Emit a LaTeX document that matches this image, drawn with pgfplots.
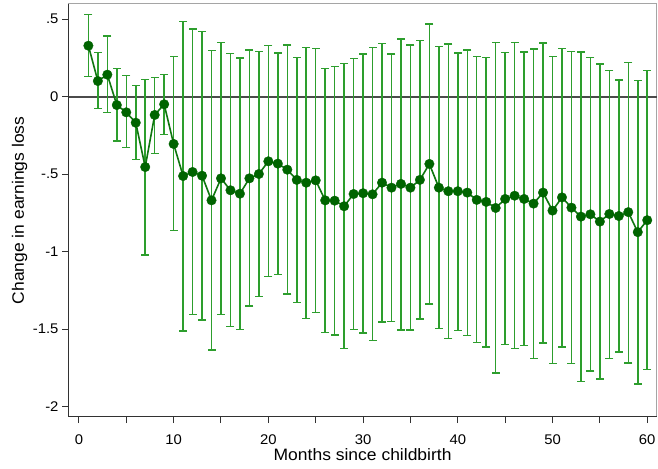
\documentclass[border=0pt]{standalone}
\usepackage{pgfplots}
\pgfplotsset{compat=1.18}
\usepackage{pgfplotstable}
\usepackage{fontspec}
\setmainfont[FakeStretch=1.06]{Liberation Sans}
\definecolor{cigreen}{RGB}{45,158,45}
\definecolor{dkgreen}{RGB}{0,100,0}
\definecolor{linegreen}{RGB}{15,118,15}
\definecolor{framegray}{RGB}{165,165,165}
\definecolor{axisdark}{RGB}{50,50,50}
\definecolor{zerogray}{RGB}{75,75,75}

\pgfplotstableread{
x y lo hi
1 0.329 0.132 0.529
2 0.101 -0.077 0.286
3 0.142 -0.103 0.392
4 -0.054 -0.286 0.181
5 -0.101 -0.329 0.135
6 -0.168 -0.406 0.073
7 -0.454 -1.021 0.112
8 -0.118 -0.365 0.125
9 -0.049 -0.245 0.142
10 -0.305 -0.864 0.258
11 -0.512 -1.512 0.486
12 -0.486 -1.404 0.437
13 -0.510 -1.441 0.422
14 -0.669 -1.634 0.297
15 -0.527 -1.404 0.351
16 -0.604 -1.482 0.277
17 -0.626 -1.503 0.250
18 -0.527 -1.350 0.301
19 -0.499 -1.290 0.290
20 -0.417 -1.161 0.329
21 -0.432 -1.148 0.282
22 -0.471 -1.273 0.334
23 -0.537 -1.327 0.252
24 -0.555 -1.430 0.316
25 -0.540 -1.394 0.310
26 -0.669 -1.520 0.183
27 -0.671 -1.537 0.196
28 -0.707 -1.623 0.215
29 -0.628 -1.503 0.248
30 -0.623 -1.525 0.275
31 -0.630 -1.574 0.316
32 -0.555 -1.454 0.342
33 -0.587 -1.452 0.275
34 -0.563 -1.505 0.372
35 -0.587 -1.505 0.334
36 -0.537 -1.434 0.361
37 -0.434 -1.337 0.469
38 -0.587 -1.494 0.323
39 -0.610 -1.561 0.340
40 -0.610 -1.510 0.282
41 -0.619 -1.540 0.301
42 -0.666 -1.585 0.258
43 -0.679 -1.615 0.254
44 -0.718 -1.783 0.351
45 -0.660 -1.600 0.284
46 -0.639 -1.626 0.351
47 -0.660 -1.606 0.288
48 -0.690 -1.690 0.308
49 -0.619 -1.589 0.346
50 -0.735 -1.723 0.258
51 -0.650 -1.615 0.312
52 -0.716 -1.720 0.290
53 -0.774 -1.836 0.288
54 -0.759 -1.770 0.254
55 -0.806 -1.823 0.211
56 -0.757 -1.690 0.170
57 -0.770 -1.647 0.108
58 -0.745 -1.718 0.222
59 -0.874 -1.854 0.103
60 -0.797 -1.760 0.168
}\datatable

\begin{document}
\begin{tikzpicture}
\begin{axis}[
  scale only axis,
  width=588.2bp, height=412.7bp,
  xmin=-1.1, xmax=61,
  ymin=-2.065, ymax=0.598,
  axis line style={draw=framegray, line width=1bp},
  tick pos=left,
  tick align=outside,
  major tick length=6.5bp,
  minor tick length=6.5bp,
  tick style={axisdark, line width=1bp},
  xtick={0,10,20,30,40,50,60},
  xticklabels={0,10,20,30,40,50,60},
  minor xtick={5,15,25,35,45,55},
  ytick={-2,-1.5,-1,-0.5,0,0.5},
  yticklabels={-2,-1.5,-1,-.5,0,.5},
  minor ytick={},
  ticklabel style={font=\fontsize{14bp}{16bp}\selectfont, text=black},
  xticklabel style={anchor=base, yshift=-21bp},
  yticklabel style={anchor=east, xshift=0bp},
  xlabel={Months since childbirth},
  ylabel={Change in earnings loss},
  label style={font=\fontsize{16.5bp}{19bp}\selectfont, text=black},
  xlabel style={at={(rel axis cs:0.5,0)}, anchor=base, yshift=-44bp},
  ylabel style={at={(rel axis cs:0,0.5)}, anchor=base, yshift=44.5bp},
  clip=false,
]
\coordinate (bl) at (rel axis cs:0,0);
\coordinate (tr) at (rel axis cs:1,1);
\draw[axisdark, line width=1.1bp] (rel axis cs:0,1) -- (rel axis cs:0,0) -- (rel axis cs:1,0);
\addplot[zerogray, line width=1.8bp, forget plot] coordinates {(-1.1,0) (61,0)};
\addplot[cigreen, line width=1.5bp, only marks, mark=none, forget plot,
  error bars/.cd, y dir=both, y explicit, error mark=none,
  error bar style={draw=cigreen, line width=1.5bp}]
  table[x=x, y=y, y error plus expr=\thisrow{hi}-\thisrow{y}, y error minus expr=\thisrow{y}-\thisrow{lo}] {\datatable};
\addplot[only marks, mark=-, mark size=4bp, forget plot,
  mark options={draw=cigreen, line width=1.4bp}]
  table[x=x, y=hi] {\datatable};
\addplot[only marks, mark=-, mark size=4bp, forget plot,
  mark options={draw=cigreen, line width=1.4bp}]
  table[x=x, y=lo] {\datatable};
\addplot[linegreen, line width=1.6bp, mark=*, mark size=4.8bp,
  mark options={fill=dkgreen, draw=dkgreen, line width=0.3bp}]
  table[x=x, y=y] {\datatable};
\end{axis}
\pgfresetboundingbox
\path ([shift={(-68.5bp,-52.3bp)}]bl) rectangle ([shift={(1.3bp,4bp)}]tr);
\end{tikzpicture}
\end{document}
